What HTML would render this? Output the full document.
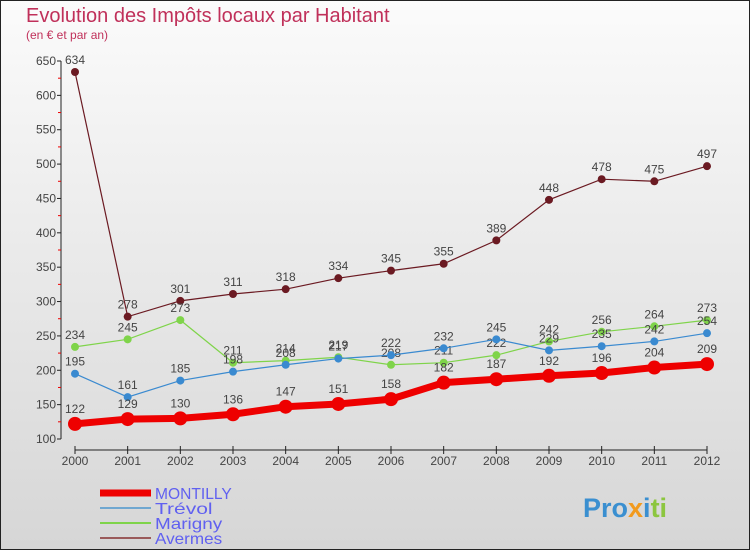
<!DOCTYPE html>
<html><head><meta charset="utf-8"><style>
body{margin:0}
svg text{font-family:"Liberation Sans",sans-serif}
</style></head><body>
<svg id="c" width="750" height="550" xmlns="http://www.w3.org/2000/svg">
<defs><linearGradient id="bg" x1="0" y1="0" x2="0" y2="1"><stop offset="0" stop-color="#fbfbfb"/><stop offset="1" stop-color="#d6d6d6"/></linearGradient></defs>
<rect x="0.5" y="0.5" width="749" height="549" fill="url(#bg)" stroke="#222"/>
<text x="26" y="22" font-size="20" fill="#c0305a">Evolution des Impôts locaux par Habitant</text>
<text x="26" y="39" font-size="12" fill="#c0305a">(en € et par an)</text>
<g id="axes"></g><g id="series"></g><g id="legend"></g>
<text x="583" y="517" font-size="27" font-weight="bold"><tspan fill="#3a8fd0">Pro</tspan><tspan fill="#f29a1d">x</tspan><tspan fill="#3a8fd0">i</tspan><tspan fill="#8cc63f">ti</tspan></text>
</svg>
<script>
const years=[2000,2001,2002,2003,2004,2005,2006,2007,2008,2009,2010,2011,2012];
const yTicks=[100,150,200,250,300,350,400,450,500,550,600,650];
const montilly=[122,129,130,136,147,151,158,182,187,192,196,204,209];
const trevol=[195,161,185,198,208,217,222,232,245,229,235,242,254];
const marigny=[234,245,273,211,214,219,208,211,222,242,256,264,273];
const avermes=[634,278,301,311,318,334,345,355,389,448,478,475,497];
const NS='http://www.w3.org/2000/svg';
const X=i=>75+i*(707-75)/12;
const Y=v=>439-(v-100)*(439-61)/550;
function mk(t,a,p){const e=document.createElementNS(NS,t);for(const k in a)e.setAttribute(k,a[k]);p.appendChild(e);return e;}
const ax=document.getElementById('axes');
let l=mk('line',{x1:61,y1:Y(650),x2:61,y2:Y(100),stroke:'#222'},ax);


l=mk('line',{x1:X(0),y1:450,x2:X(12),y2:450,stroke:'#222'},ax);


yTicks.forEach((v,i)=>{
 mk('line',{x1:57,x2:61,y1:Y(v),y2:Y(v),stroke:'#222'},ax);
 if(i<yTicks.length-1) mk('line',{x1:58,x2:61,y1:Y(v+25),y2:Y(v+25),stroke:'#e00'},ax);
 const t=mk('text',{x:56,y:Y(v)+4,'font-size':12,fill:'#444','text-anchor':'end'},ax);t.textContent=v;
 
 
});
years.forEach((y,i)=>{
 mk('line',{x1:X(i),x2:X(i),y1:446,y2:454,stroke:'#222'},ax);
 const t=mk('text',{x:X(i),y:465,'font-size':12,fill:'#444','text-anchor':'middle'},ax);t.textContent=y;
 
 
});
const sg=document.getElementById('series');
function draw(name,data,color,w,r){
 const g=mk('g',{},sg);
 
 
 const p=mk('polyline',{points:data.map((v,i)=>X(i)+','+Y(v)).join(' '),fill:'none',stroke:color,'stroke-width':w},g);
 
 
 data.forEach((v,i)=>{
  const c=mk('circle',{cx:X(i),cy:Y(v),r:r,fill:color},g);
  
  
  const t=mk('text',{x:X(i),y:Y(v)-r-4,'font-size':12,fill:'#444','text-anchor':'middle'},g);t.textContent=v;
  
  
 });
}
draw('avermes',avermes,'#6b1a22',1.2,4);
draw('marigny',marigny,'#7fd44a',1.2,4);
draw('trevol',trevol,'#3a8ad0',1.2,4);
draw('montilly',montilly,'#ee0000',7,7);
const lg=document.getElementById('legend');
[['MONTILLY','#ee0000',7],['Trévol','#6fa7d0',2],['Marigny','#7fd44a',2],['Avermes','#9a5a5a',2]].forEach((d,i)=>{
 const y=493+i*15;
 const g=mk('g',{},lg);
 
 
 mk('line',{x1:100,x2:151,y1:y,y2:y,stroke:d[1],'stroke-width':d[2]},g);
 const t=mk('text',{x:155,y:y+6,'font-size':16,fill:'#6060f0','textLength':d[0].length*9.6,'lengthAdjust':'spacingAndGlyphs'},g);t.textContent=d[0];
});
</script>
</body></html>
